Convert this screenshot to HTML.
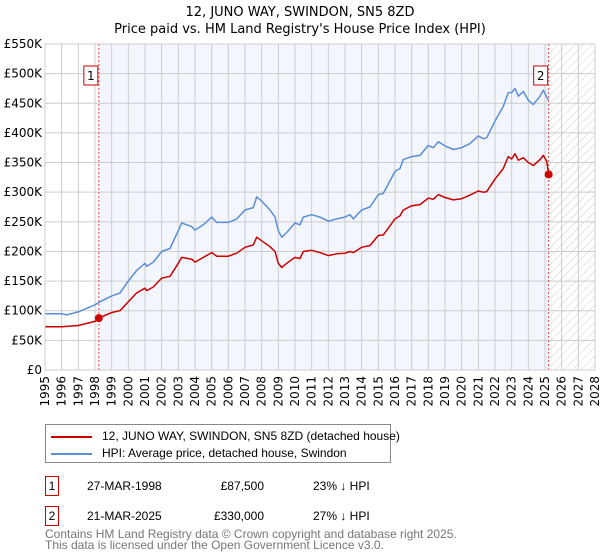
<!DOCTYPE html>
<html><head><meta charset="utf-8">
<style>
body{margin:0;background:#fff;font-family:"Liberation Sans","DejaVu Sans",sans-serif;}
#wrap{position:relative;width:600px;height:560px;overflow:hidden;}
svg text{font-family:"DejaVu Sans","Liberation Sans",sans-serif;}
</style></head>
<body><div id="wrap">
<svg id="svg" width="600" height="560" xmlns="http://www.w3.org/2000/svg">
<defs>
<pattern id="hatch" patternUnits="userSpaceOnUse" width="6" height="6" patternTransform="rotate(45)">
<line x1="0" y1="0" x2="0" y2="6" stroke="#ccc" stroke-width="1"/></pattern>
</defs>
<text x="300" y="16" text-anchor="middle" font-size="13" fill="#000">12, JUNO WAY, SWINDON, SN5 8ZD</text>
<text x="300" y="33" text-anchor="middle" font-size="13" fill="#000">Price paid vs. HM Land Registry's House Price Index (HPI)</text>
<g id="plot"></g>
</svg>
<div style="position:absolute;left:45px;top:424px;width:344px;height:37px;border:1px solid #888;font-size:12px;">
<div style="position:absolute;left:5px;top:4px;white-space:nowrap"><span style="display:inline-block;width:41px;height:2px;background:#cc0000;vertical-align:middle;margin-right:10px"></span>12, JUNO WAY, SWINDON, SN5 8ZD (detached house)</div>
<div style="position:absolute;left:5px;top:21px;white-space:nowrap"><span style="display:inline-block;width:41px;height:2px;background:#5b8ed6;vertical-align:middle;margin-right:10px"></span>HPI: Average price, detached house, Swindon</div>
</div>
<div style="font-size:12px;color:#000">
<div style="position:absolute;left:45px;top:476px;width:12px;height:18px;border:1px solid #c00;text-align:center;line-height:18px">1</div>
<div style="position:absolute;left:87px;top:479px">27-MAR-1998</div>
<div style="position:absolute;left:164px;width:100px;text-align:right;top:479px">£87,500</div>
<div style="position:absolute;left:313px;top:479px">23% ↓ HPI</div>
<div style="position:absolute;left:45px;top:506px;width:12px;height:18px;border:1px solid #c00;text-align:center;line-height:18px">2</div>
<div style="position:absolute;left:87px;top:509px">21-MAR-2025</div>
<div style="position:absolute;left:164px;width:100px;text-align:right;top:509px">£330,000</div>
<div style="position:absolute;left:313px;top:509px">27% ↓ HPI</div>
</div>
<div style="position:absolute;left:45px;top:529px;font-size:12px;color:#777;line-height:11px">Contains HM Land Registry data © Crown copyright and database right 2025.<br>This data is licensed under the Open Government Licence v3.0.</div>
</div>
<script>
const hpiYears=[1995,1996,1996.3,1997,1998,1998.3,1999,1999.5,2000,2000.5,2001,2001.1,2001.5,2002,2002.5,2003,2003.2,2003.8,2004,2004.5,2005,2005.3,2006,2006.5,2007,2007.5,2007.7,2008,2008.5,2008.8,2009,2009.2,2009.5,2010,2010.3,2010.5,2011,2011.5,2012,2012.5,2013,2013.3,2013.5,2014,2014.5,2015,2015.3,2016,2016.3,2016.5,2017,2017.5,2018,2018.3,2018.6,2019,2019.5,2020,2020.5,2021,2021.3,2021.5,2022,2022.5,2022.8,2023,2023.2,2023.4,2023.7,2024,2024.3,2024.7,2024.9,2025.2];
const hpiValues=[95,95,93,98,110,115,125,130,150,168,180,175,182,200,205,235,248,242,236,245,258,249,249,255,270,274,292,285,270,258,235,224,232,248,245,258,262,258,251,255,258,262,255,270,275,296,298,335,340,355,360,362,379,375,385,378,372,375,382,395,390,392,420,445,468,468,475,462,470,455,448,462,472,455];
const propYears=[1995,1996,1997,1998,1998.23,1999,1999.5,2000,2000.5,2001,2001.1,2001.5,2002,2002.5,2003,2003.2,2003.8,2004,2004.5,2005,2005.3,2006,2006.5,2007,2007.5,2007.7,2008,2008.5,2008.8,2009,2009.2,2009.5,2010,2010.3,2010.5,2011,2011.5,2012,2012.5,2013,2013.3,2013.5,2014,2014.5,2015,2015.3,2016,2016.3,2016.5,2017,2017.5,2018,2018.3,2018.6,2019,2019.5,2020,2020.5,2021,2021.3,2021.5,2022,2022.5,2022.8,2023,2023.2,2023.4,2023.7,2024,2024.3,2024.7,2024.9,2025.1,2025.22];
const propValues=[73,73,75,82,87.5,97,100,115,130,138,134,140,155,158,180,190,187,182,190,198,192,192,197,207,211,224,218,208,200,180,173,180,190,188,200,202,198,193,196,197,200,198,207,210,227,228,255,260,270,277,279,290,288,296,291,287,289,295,302,300,301,322,340,360,356,365,354,358,350,345,355,362,352,330];
const saleYears=[1998.23,2025.22];
const saleValues=[87.5,330];
const saleLabels=["1","2"];
const yTicks=[0,50,100,150,200,250,300,350,400,450,500,550];
const yTickLabels=["£0","£50K","£100K","£150K","£200K","£250K","£300K","£350K","£400K","£450K","£500K","£550K"];
const xTicks=[];for(let y=1995;y<=2028;y++)xTicks.push(y);

const L=45,R=595,T=44,B=370,X0=1995,X1=2028,YMAX=550;
const sx=v=>L+(v-X0)/(X1-X0)*(R-L);
const sy=v=>B-v/YMAX*(B-T);
const NS="http://www.w3.org/2000/svg";
const g=document.getElementById('plot');
function mk(tag,attrs,parent){const e=document.createElementNS(NS,tag);for(const k in attrs)e.setAttribute(k,attrs[k]);(parent||g).appendChild(e);return e;}
let e;
e=mk('rect',{x:sx(saleYears[0]),y:T,width:sx(saleYears[1])-sx(saleYears[0]),height:B-T,fill:'#f3f6fd'});


e=mk('rect',{x:sx(saleYears[1]),y:T,width:R-sx(saleYears[1]),height:B-T,fill:'url(#hatch)'});


xTicks.forEach(y=>{
  e=mk('line',{x1:sx(y),x2:sx(y),y1:T,y2:B,stroke:'#ccc','stroke-width':1});
  
  
  e=mk('text',{x:0,y:0,transform:`translate(${sx(y)+4},${B+6}) rotate(-90)`,'text-anchor':'end','font-size':12,fill:'#000'});
  e.textContent=y;
  
  
});
yTicks.forEach((v,i)=>{
  e=mk('line',{x1:L,x2:R,y1:sy(v),y2:sy(v),stroke:'#ccc','stroke-width':1});
  
  
  e=mk('text',{x:L-3,y:sy(v)+4,'text-anchor':'end','font-size':12,fill:'#000'});
  e.textContent=yTickLabels[i];
  
  
});
saleYears.forEach((y,i)=>{
  e=mk('line',{x1:sx(y),x2:sx(y),y1:T,y2:B,stroke:'#e05050','stroke-width':1,'stroke-dasharray':'2,2'});
  
  
});
function path(xs,vs,color,name){
  const d=xs.map((x,i)=>(i?'L':'M')+sx(x).toFixed(1)+','+sy(vs[i]).toFixed(1)).join('');
  const p=mk('path',{d:d,fill:'none',stroke:color,'stroke-width':1.5,'stroke-linejoin':'round'});
  
  
}
path(hpiYears,hpiValues,'#5b8ed6','hpi-line');
path(propYears,propValues,'#cc0000','property-price-line');
saleYears.forEach((y,i)=>{
  e=mk('circle',{cx:sx(y),cy:sy(saleValues[i]),r:4,fill:'#cc0000'});
  
  
  e=mk('rect',{x:sx(y)-15,y:66,width:14,height:19,fill:'#fff',stroke:'#cc0000','stroke-width':1});
  
  
  e=mk('text',{x:sx(y)-8,y:80,'text-anchor':'middle','font-size':12,fill:'#000'});
  e.textContent=saleLabels[i];
  
  
});
e=mk('rect',{x:L,y:T,width:R-L,height:B-T,fill:'none',stroke:'#ccc','stroke-width':1});


</script>
</body></html>
